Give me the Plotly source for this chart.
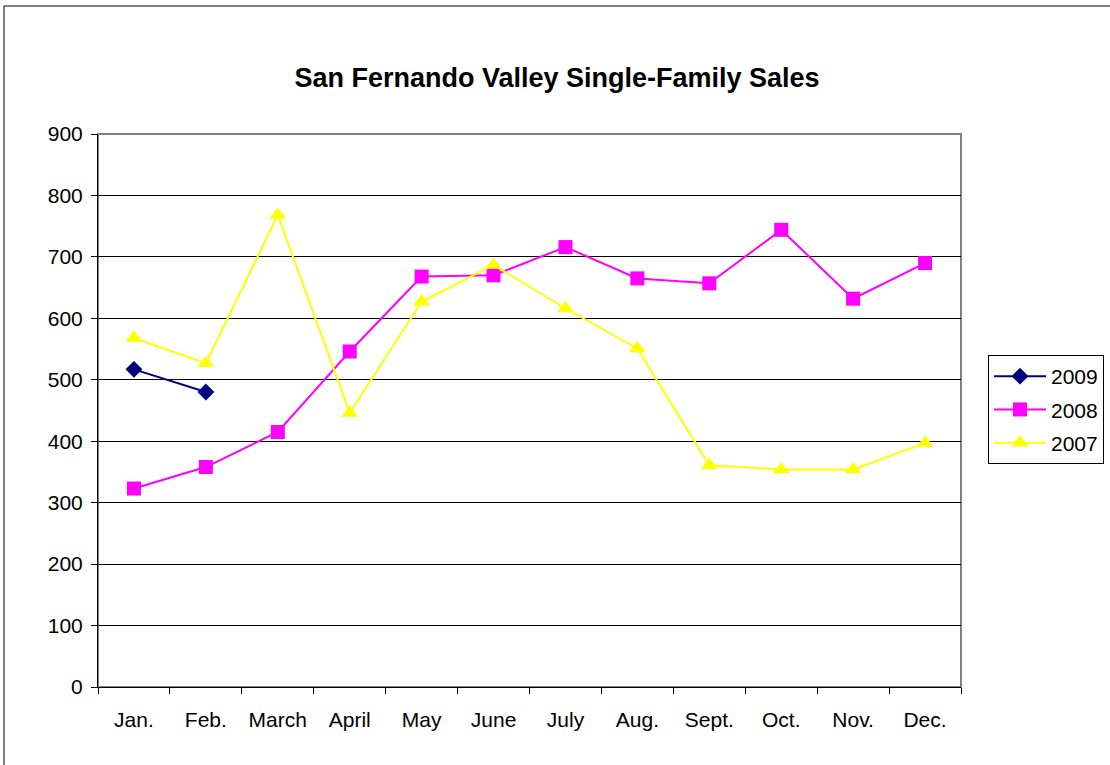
import plotly.graph_objects as go

months = ["Jan.", "Feb.", "March", "April", "May", "June", "July", "Aug.", "Sept.", "Oct.", "Nov.", "Dec."]
sales_2009 = [517, 480]
sales_2008 = [323, 358, 415, 546, 668, 670, 716, 665, 657, 744, 632, 690]
sales_2007 = [568, 527, 768, 446, 627, 687, 616, 551, 361, 354, 354, 397]

FONT = "Liberation Sans, Arial, sans-serif"

fig = go.Figure()
fig.add_trace(go.Scatter(x=months[:len(sales_2009)], y=sales_2009, name="2009", mode="lines+markers",
                         legendgroup="a",
                         line=dict(color="#000080", width=2),
                         marker=dict(symbol="diamond", size=13, color="#000080")))
fig.add_trace(go.Scatter(x=months, y=sales_2008, name="2008", mode="lines+markers",
                         legendgroup="b",
                         line=dict(color="#FF00FF", width=2),
                         marker=dict(symbol="square", size=14, color="#FF00FF")))
fig.add_trace(go.Scatter(x=months, y=sales_2007, name="2007", mode="lines+markers",
                         legendgroup="c",
                         line=dict(color="#FFFF00", width=2),
                         marker=dict(symbol="triangle-up", size=15, color="#FFFF00")))

fig.update_layout(
    width=1110, height=765,
    margin=dict(l=98, r=149, t=134, b=78, autoexpand=False),
    paper_bgcolor="white", plot_bgcolor="white",
    font=dict(family=FONT, size=21, color="black"),
    title=dict(text="<b>San Fernando Valley Single-Family Sales</b>", x=557 / 1110, xanchor="center",
               y=1 - 78 / 765, yanchor="middle", font=dict(size=27, family=FONT)),
    showlegend=True,
    legend=dict(x=(988 - 98) / 863, y=(687 - 355) / 553, xanchor="left", yanchor="top",
                bordercolor="black", borderwidth=1, bgcolor="white",
                font=dict(size=21), tracegroupgap=3, itemwidth=52),
    xaxis=dict(type="category", categoryorder="array", categoryarray=months,
               range=[-0.5, 11.5], tickson="boundaries", ticks="outside", ticklen=6,
               tickcolor="black", showline=True, linecolor="black", linewidth=1,
               showgrid=False, zeroline=False, ticklabelstandoff=14,
               tickfont=dict(size=21)),
    yaxis=dict(range=[0, 900], dtick=100, ticks="outside", ticklen=6, tickcolor="black",
               showline=True, linecolor="black", linewidth=1, ticklabelstandoff=4,
               showgrid=True, gridcolor="black", gridwidth=1, zeroline=False,
               tickfont=dict(size=21)),
    shapes=[
        dict(type="rect", xref="paper", yref="paper", x0=0, x1=1, y0=0, y1=1,
             line=dict(color="#808080", width=2), layer="below"),
        dict(type="rect", xref="paper", yref="paper",
             x0=(4 - 98) / 863, x1=(1200 - 98) / 863,
             y0=(687 - 800) / 553, y1=(687 - 6) / 553,
             line=dict(color="black", width=1)),
    ],
)

fig.write_html("out.html", config={"displayModeBar": False},
               post_script="document.body.style.margin='0';document.body.style.padding='0';")
